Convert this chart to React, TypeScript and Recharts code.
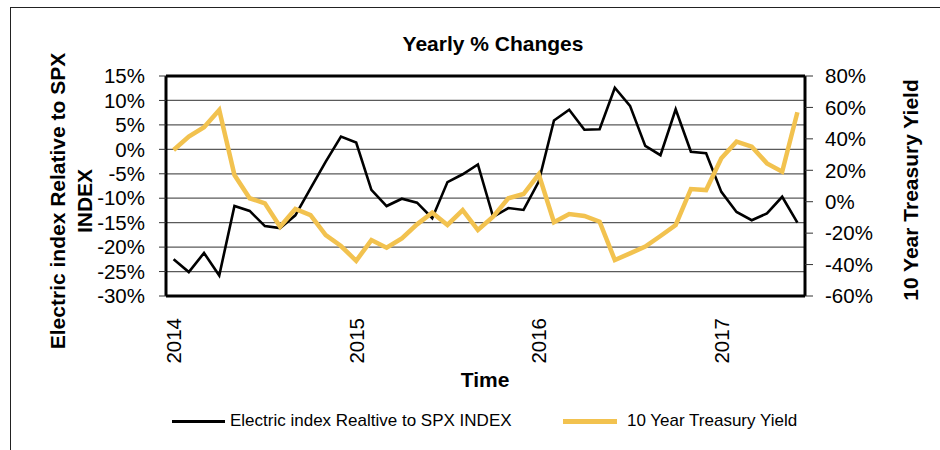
import React from 'react'
import {
  LineChart,
  Line,
  XAxis,
  YAxis,
  CartesianGrid,
  ReferenceLine,
} from 'recharts'

const months = [
  '2014-01', '2014-02', '2014-03', '2014-04', '2014-05', '2014-06',
  '2014-07', '2014-08', '2014-09', '2014-10', '2014-11', '2014-12',
  '2015-01', '2015-02', '2015-03', '2015-04', '2015-05', '2015-06',
  '2015-07', '2015-08', '2015-09', '2015-10', '2015-11', '2015-12',
  '2016-01', '2016-02', '2016-03', '2016-04', '2016-05', '2016-06',
  '2016-07', '2016-08', '2016-09', '2016-10', '2016-11', '2016-12',
  '2017-01', '2017-02', '2017-03', '2017-04', '2017-05', '2017-06',
]

// electric index relative to SPX, yearly % change (left axis)
const electricRel = [
  -22.5, -25.1, -21.2, -25.8, -11.6, -12.6, -15.7, -16.1, -13.5, -8.0, -2.5, 2.6,
  1.4, -8.3, -11.6, -10.1, -10.9, -14.1, -6.7, -5.1, -3.1, -13.8, -12.0, -12.4,
  -6.6, 5.9, 8.1, 4.0, 4.1, 12.6, 8.9, 0.7, -1.2, 8.2, -0.5, -0.8,
  -8.7, -12.8, -14.5, -13.1, -9.7, -15.0,
]

// 10 year treasury yield, yearly % change (right axis)
const treasuryYield = [
  32.9, 41.4, 47.4, 58.4, 17.0, 2.2, -1.0, -15.9, -4.6, -8.5, -21.2, -28.2,
  -37.6, -24.4, -29.3, -23.3, -14.4, -7.0, -14.8, -5.3, -18.0, -9.5, 2.2, 4.9,
  17.4, -13.1, -7.8, -9.1, -12.7, -37.1, -32.9, -28.6, -21.8, -14.8, 8.1, 7.4,
  27.6, 38.2, 35.0, 24.4, 19.1, 56.9,
]

const leftTicks = [-30, -25, -20, -15, -10, -5, 0, 5, 10, 15]
const rightTicks = [-60, -40, -20, 0, 20, 40, 60, 80]

const seriesNames = ['Electric index Realtive to SPX INDEX', '10 Year Treasury Yield']

const data = months.map((m, i) => ({
  month: m,
  electric: electricRel[i],
  treasury: treasuryYield[i],
}))

const FONT = '"Liberation Sans", Arial, sans-serif'
const BLACK = '#000000'
const GOLD = '#F2C24F'

const YearTick = ({ x, y, payload }: any) => (
  <g transform={`translate(${x},${y + 14}) rotate(-90)`}>
    <text x={0} y={0} dy="0.36em" textAnchor="end" fontSize={20.5} fontFamily={FONT} fill="#000">
      {String(payload.value).slice(0, 4)}
    </text>
  </g>
)

const pct = (v: number) => `${v}%`

export default function App() {
  return (
    <div style={{ position: 'relative', width: 940, height: 450, background: '#fff', overflow: 'hidden', fontFamily: FONT }}>
      <style>{'body{margin:0}'}</style>
      <div
        style={{
          position: 'absolute',
          left: 10,
          top: 7,
          width: 940,
          height: 450,
          borderTop: '1.5px solid #222',
          borderLeft: '1.5px solid #222',
        }}
      />
      <LineChart
        width={940}
        height={450}
        data={data}
        margin={{ top: 76, right: 0, bottom: 0, left: 0 }}
        style={{ position: 'absolute', left: 0, top: 0 }}
      >
        <CartesianGrid yAxisId="left" vertical={false} stroke="#5a5a5a" strokeWidth={1.2} />
        <XAxis
          dataKey="month"
          interval={11}
          height={154}
          padding={{ left: 7.6, right: 7.6 }}
          tick={<YearTick />}
          tickLine={false}
          axisLine={{ stroke: BLACK, strokeWidth: 3 }}
        />
        <YAxis
          yAxisId="left"
          orientation="left"
          width={166}
          domain={[-30, 15]}
          ticks={leftTicks}
          interval={0}
          tickFormatter={pct}
          tickSize={7}
          tickMargin={14}
          tick={{ fontSize: 20.5, fontFamily: FONT, fill: '#000' }}
          tickLine={{ stroke: '#333' }}
          axisLine={{ stroke: BLACK, strokeWidth: 3 }}
        />
        <YAxis
          yAxisId="right"
          orientation="right"
          width={135}
          domain={[-60, 80]}
          ticks={rightTicks}
          interval={0}
          tickFormatter={pct}
          tickSize={8}
          tickMargin={12}
          tick={{ fontSize: 20.5, fontFamily: FONT, fill: '#000', textAnchor: 'start' }}
          tickLine={{ stroke: '#333' }}
          axisLine={{ stroke: BLACK, strokeWidth: 3 }}
        />
        <ReferenceLine yAxisId="left" y={15} stroke={BLACK} strokeWidth={3} />
        <Line
          yAxisId="left"
          dataKey="electric"
          name={seriesNames[0]}
          stroke={BLACK}
          strokeWidth={2.6}
          dot={false}
          type="linear"
          isAnimationActive={false}
        />
        <Line
          yAxisId="right"
          dataKey="treasury"
          name={seriesNames[1]}
          stroke={GOLD}
          strokeWidth={4.5}
          dot={false}
          type="linear"
          isAnimationActive={false}
        />
      </LineChart>

      {/* title */}
      <div
        style={{
          position: 'absolute',
          left: 493,
          top: 44,
          transform: 'translate(-50%, -50%)',
          fontSize: 21,
          fontWeight: 700,
          whiteSpace: 'nowrap',
        }}
      >
        Yearly % Changes
      </div>

      {/* left axis title */}
      <div
        style={{
          position: 'absolute',
          left: 71,
          top: 201,
          transform: 'translate(-50%, -50%) rotate(-90deg)',
          fontSize: 21,
          fontWeight: 700,
          lineHeight: '27px',
          textAlign: 'center',
          whiteSpace: 'nowrap',
        }}
      >
        Electric index Relative to SPX
        <br />
        INDEX
      </div>

      {/* right axis title */}
      <div
        style={{
          position: 'absolute',
          left: 911,
          top: 190,
          transform: 'translate(-50%, -50%) rotate(-90deg)',
          fontSize: 21,
          fontWeight: 700,
          whiteSpace: 'nowrap',
        }}
      >
        10 Year Treasury Yield
      </div>

      {/* x axis title */}
      <div
        style={{
          position: 'absolute',
          left: 485,
          top: 380,
          transform: 'translate(-50%, -50%)',
          fontSize: 21,
          fontWeight: 700,
        }}
      >
        Time
      </div>

      {/* legend */}
      <div style={{ position: 'absolute', left: 172, top: 419.5, width: 53, height: 3, background: BLACK }} />
      <div style={{ position: 'absolute', left: 230, top: 421, transform: 'translateY(-50%)', fontSize: 17, whiteSpace: 'nowrap' }}>
        {seriesNames[0]}
      </div>
      <div style={{ position: 'absolute', left: 563, top: 418.5, width: 54, height: 5, background: GOLD }} />
      <div style={{ position: 'absolute', left: 627, top: 421, transform: 'translateY(-50%)', fontSize: 17, whiteSpace: 'nowrap' }}>
        {seriesNames[1]}
      </div>
    </div>
  )
}
